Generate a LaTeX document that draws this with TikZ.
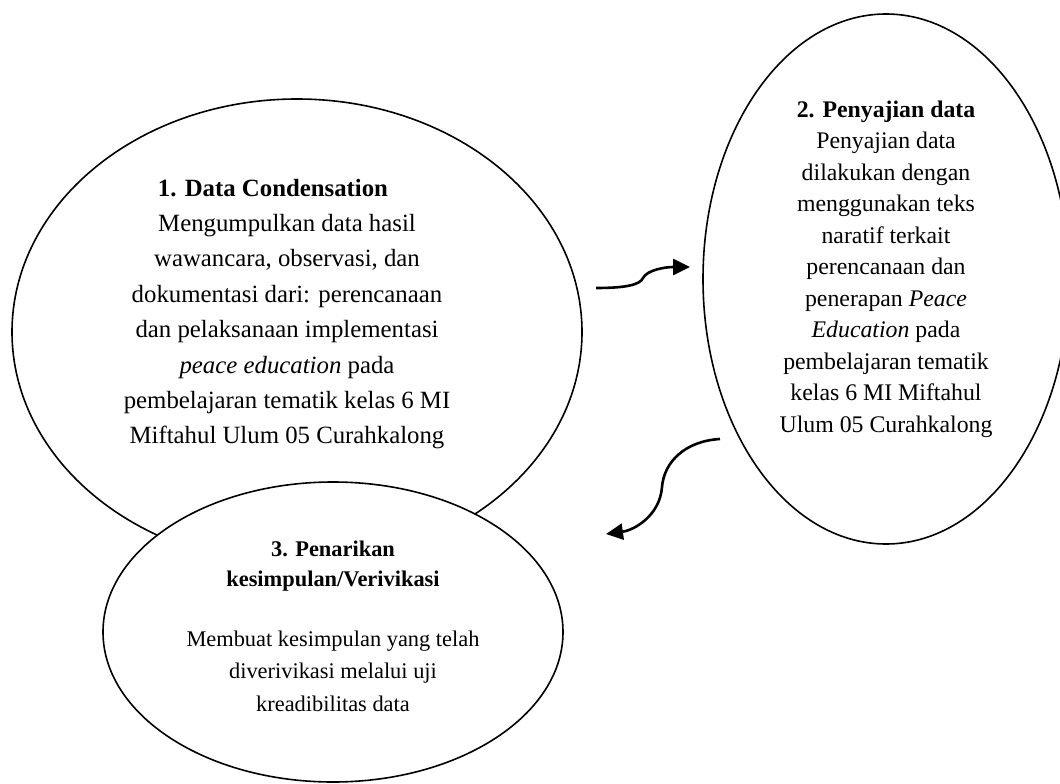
\documentclass[tikz,border=0pt]{standalone}
\usepackage{fontspec}
\setmainfont{Liberation Serif}
\usetikzlibrary{shapes.geometric,arrows.meta}

\begin{document}
\begin{tikzpicture}[x=1pt,y=-1pt,
	oval/.style={draw, ellipse, line width=1.6pt, inner sep=0pt},
	bigtext/.style={align=center, inner sep=0pt, font=\fontsize{24.8}{35.4}\selectfont},
	midtext/.style={align=center, inner sep=0pt, font=\fontsize{23.8}{31.5}\selectfont},
	smalltext/.style={align=center, inner sep=0pt, font=\fontsize{22.4}{30}\selectfont},
	flow/.style={line width=2.6pt, -{Triangle[length=17pt,width=16pt]}}]
		\useasboundingbox (0,0) rectangle (1060,784);
		\clip (0,0) rectangle (1060,784);
		\fill[white] (0,0) rectangle (1060,784);

		% the three stages
		\node[oval, minimum width=570, minimum height=466] (cond) at (297,332) {};
		\node[oval, minimum width=366, minimum height=530] (saji) at (886,279) {};
		\node[oval, fill=white, minimum width=460, minimum height=300] (tarik) at (333,632) {};

		\node[bigtext] (condtext) at (287,314) {\textbf{1. Data Condensation}\kern28pt\\
			Mengumpulkan data hasil\\
			wawancara, observasi, dan\\
			dokumentasi dari: perencanaan\\
			dan pelaksanaan implementasi\\
			\textit{peace education} pada\\
			pembelajaran tematik kelas 6 MI\\
			Miftahul Ulum 05 Curahkalong};

		\node[midtext] (sajitext) at (886,269) {\textbf{2. Penyajian data}\\
			Penyajian data\\
			dilakukan dengan\\
			menggunakan teks\\
			naratif terkait\\
			perencanaan dan\\
			penerapan \textit{Peace}\\
			\textit{Education} pada\\
			pembelajaran tematik\\
			kelas 6 MI Miftahul\\
			Ulum 05 Curahkalong};

		\node[smalltext] (tariktext) at (333,626) {\textbf{3. Penarikan}\\
			\textbf{kesimpulan/Verivikasi}\\[30pt]
			Membuat kesimpulan yang telah\\[2.5pt]
			diverivikasi melalui uji\\[2.5pt]
			kreadibilitas data};

		% arrows between the stages
		\coordinate (p) at (596,288);
		\coordinate (q) at (690,267);
		\coordinate (r) at (720,439);
		\coordinate (s) at (606,534);
		\draw[flow] (p) .. controls (625,288) and (640,285) .. (643,278) .. controls (647,270) and (665,267) .. (q);
		\draw[flow] (r) .. controls (685,441) and (664,462) .. (662,487) .. controls (660,515) and (635,530) .. (s);

	\end{tikzpicture}
\end{document}
